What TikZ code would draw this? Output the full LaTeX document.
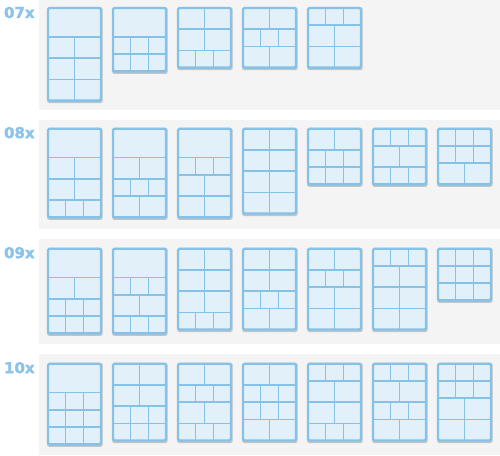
\documentclass[tikz,border=0pt]{standalone}
\usepackage{fontspec}
\setmainfont{DejaVu Sans}
\newfontfamily\lblfont{DejaVu Sans Bold}[FakeBold=1.8]
\definecolor{bgg}{HTML}{F4F4F4}
\definecolor{bord}{HTML}{86C2E8}
\definecolor{cellf}{HTML}{E2F0FA}
\definecolor{shad}{HTML}{C4C4C4}
\definecolor{lblc}{HTML}{8CC3E8}
\tikzset{
  rowbg/.style={fill=bgg},
  outerb/.style={draw=bord, line width=2.4pt, rounded corners=1.5pt},
  innerl/.style={draw=bord, line width=1.5pt},
  cellfill/.style={fill=cellf},
  shadowbox/.style={fill=shad, rounded corners=2pt},
  lbl/.style={text=lblc, font=\lblfont\fontsize{15}{18}\selectfont, inner sep=0pt, anchor=north east}
}
\newcommand\pnl[3]{%
  \pgfmathsetmacro\px{48+65*#1}%
  \xdef\cy{#2}%
  \foreach \n in {#3} {%
    \pgfmathsetmacro\h{\n==1?29:(\n==2?21.2:17.2)}%
    \pgfmathsetmacro\ny{\cy+\h}%
    \xdef\cy{\ny}%
  }%
  \let\bot\cy
  \fill[shadowbox] (\px-0.8,#2-0.8) rectangle (\px+54.6,\bot+2.5);
  \fill[cellfill] (\px,#2) rectangle (\px+53,\bot);
  \xdef\cy{#2}%
  \foreach \n in {#3} {%
    \pgfmathsetmacro\h{\n==1?29:(\n==2?21.2:17.2)}%
    \pgfmathsetmacro\ny{\cy+\h}%
    \ifnum\n=2 \draw[innerl] (\px+26.5,\cy) -- (\px+26.5,\ny);\fi
    \ifnum\n=3 \draw[innerl] (\px+17.667,\cy) -- (\px+17.667,\ny);
               \draw[innerl] (\px+35.333,\cy) -- (\px+35.333,\ny);\fi
    \draw[innerl] (\px,\ny) -- (\px+53,\ny);
    \xdef\cy{\ny}%
  }%
  \draw[outerb] (\px,#2) rectangle (\px+53,\bot);
}
\begin{document}
\begin{tikzpicture}[x=1pt,y=-1pt]
\useasboundingbox (0,0) rectangle (500,455);
\fill[white] (0,0) rectangle (500,455);
% row backgrounds
\fill[rowbg] (39,0) rectangle (500,109.5);
\fill[rowbg] (39,119.7) rectangle (500,229.3);
\fill[rowbg] (39,239.3) rectangle (500,344.3);
\fill[rowbg] (39,354.3) rectangle (500,455);
% labels
\node[lbl] (l07) at (34.8,6.6) {07x};
\node[lbl] (l08) at (34.8,126.8) {08x};
\node[lbl] (l09) at (34.8,246.8) {09x};
\node[lbl] (l10) at (34.8,361.8) {10x};
% 07x
\pnl{0}{8}{1,2,2,2}
\pnl{1}{8}{1,3,3}
\pnl{2}{8}{2,2,3}
\pnl{3}{8}{2,3,2}
\pnl{4}{8}{3,2,2}
% 08x
\pnl{0}{128.7}{1,2,2,3}
\pnl{1}{128.7}{1,2,3,2}
\pnl{2}{128.7}{1,3,2,2}
\pnl{3}{128.7}{2,2,2,2}
\pnl{4}{128.7}{2,3,3}
\pnl{5}{128.7}{3,2,3}
\pnl{6}{128.7}{3,3,2}
% 09x
\pnl{0}{248.7}{1,2,3,3}
\pnl{1}{248.7}{1,3,2,3}
\pnl{2}{248.7}{2,2,2,3}
\pnl{3}{248.7}{2,2,3,2}
\pnl{4}{248.7}{2,3,2,2}
\pnl{5}{248.7}{3,2,2,2}
\pnl{6}{248.7}{3,3,3}
% 10x
\pnl{0}{363.7}{1,3,3,3}
\pnl{1}{363.7}{2,2,3,3}
\pnl{2}{363.7}{2,3,2,3}
\pnl{3}{363.7}{2,3,3,2}
\pnl{4}{363.7}{3,2,2,3}
\pnl{5}{363.7}{3,2,3,2}
\pnl{6}{363.7}{3,3,2,2}
\end{tikzpicture}
\end{document}
